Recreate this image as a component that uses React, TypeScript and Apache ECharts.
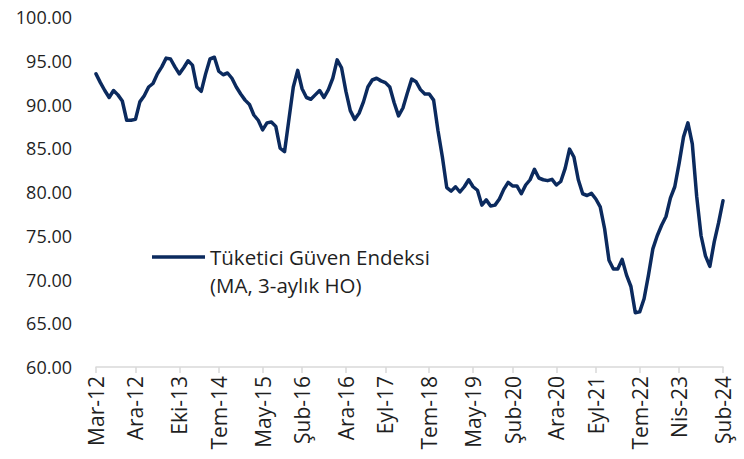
import React, { useEffect, useRef } from "react";
import * as echarts from "echarts";

const MONTH_NAMES = ["Oca", "Şub", "Mar", "Nis", "May", "Haz", "Tem", "Ağu", "Eyl", "Eki", "Kas", "Ara"];
const START_YEAR = 2012;
const START_MONTH = 2; // March (0-based)
const SERIES_NAME = "Tüketici Güven Endeksi";
const SERIES_NOTE = "(MA, 3-aylık HO)";

const TICK_LABELS = [
  "Mar-12", "Ara-12", "Eki-13", "Tem-14", "May-15", "Şub-16", "Ara-16", "Eyl-17",
  "Tem-18", "May-19", "Şub-20", "Ara-20", "Eyl-21", "Tem-22", "Nis-23", "Şub-24",
];

const VALUES = [
  93.5, 92.5, 91.6, 90.8, 91.6, 91.1, 90.4, 88.2, 88.2, 88.3,
  90.3, 91.0, 92.0, 92.4, 93.5, 94.3, 95.3, 95.2, 94.3, 93.5,
  94.2, 95.0, 94.5, 92.0, 91.5, 93.5, 95.2, 95.4, 93.8, 93.4,
  93.6, 93.0, 92.0, 91.2, 90.5, 90.0, 88.8, 88.2, 87.1, 87.9,
  88.0, 87.5, 85.0, 84.6, 88.3, 92.0, 93.9, 91.8, 90.8, 90.6,
  91.1, 91.6, 90.8, 91.7, 93.0, 95.1, 94.2, 91.5, 89.3, 88.3,
  89.0, 90.3, 92.0, 92.8, 93.0, 92.7, 92.5, 92.0, 90.2, 88.7,
  89.6, 91.3, 92.9, 92.6, 91.7, 91.2, 91.2, 90.5, 87.0, 84.0,
  80.5, 80.1, 80.6, 80.0, 80.6, 81.4, 80.6, 80.2, 78.5, 79.1,
  78.4, 78.5, 79.2, 80.3, 81.1, 80.7, 80.7, 79.8, 80.8, 81.4,
  82.6, 81.6, 81.4, 81.3, 81.45, 80.8, 81.2, 82.7, 84.9, 84.0,
  81.4, 79.8, 79.6, 79.85, 79.2, 78.3, 75.8, 72.2, 71.2, 71.2,
  72.3, 70.5, 69.2, 66.2, 66.3, 67.8, 70.5, 73.5, 75.0, 76.2,
  77.2, 79.3, 80.6, 83.3, 86.3, 87.9, 85.5, 79.5, 75.0, 72.7,
  71.5, 74.3, 76.5, 79.0,
];

const CATEGORIES: string[] = VALUES.map((_, i) => {
  const m = START_MONTH + i;
  const year = START_YEAR + Math.floor(m / 12);
  return MONTH_NAMES[m % 12] + "-" + String(year % 100).padStart(2, "0");
});

const FONT = "'Open Sans', 'Noto Sans', sans-serif";
const TEXT_COLOR = "#1f1f1f";
const LINE_COLOR = "#0b2a5e";

export default function App() {
  const ref = useRef<HTMLDivElement>(null);
  useEffect(() => {
    if (!ref.current) return;
    const chart = echarts.init(ref.current, null, { renderer: "svg" });
    const showIdx = (i: number) => TICK_LABELS.includes(CATEGORIES[i]);
    chart.setOption({
      animation: false,
      backgroundColor: "#ffffff",
      grid: { left: 96, right: 21, top: 17, bottom: 92, containLabel: false },
      legend: {
        left: 152,
        top: 215,
        padding: 0,
        icon: "rect",
        itemWidth: 53,
        itemHeight: 3.5,
        itemGap: 0,
        selectedMode: false,
        data: [SERIES_NAME],
        formatter: (name: string) => " \n" + name + "\n" + SERIES_NOTE,
        textStyle: {
          fontFamily: FONT,
          fontSize: 20.5,
          color: TEXT_COLOR,
          lineHeight: 28,
        },
      },
      xAxis: {
        type: "category",
        data: CATEGORIES,
        boundaryGap: false,
        axisLine: { show: true, lineStyle: { color: "#d9d9d9", width: 1.5 } },
        axisTick: {
          show: true,
          length: 6,
          interval: (i: number) => showIdx(i),
          lineStyle: { color: "#d9d9d9", width: 1.5 },
        },
        axisLabel: {
          interval: (i: number) => showIdx(i),
          rotate: 90,
          margin: 9,
          fontFamily: FONT,
          fontSize: 21,
          color: TEXT_COLOR,
        },
        splitLine: { show: false },
      },
      yAxis: {
        type: "value",
        min: 60,
        max: 100,
        interval: 5,
        axisLine: { show: false },
        axisTick: { show: false },
        splitLine: { show: false },
        axisLabel: {
          margin: 24,
          fontFamily: FONT,
          fontSize: 18,
          color: TEXT_COLOR,
          formatter: (v: number) => v.toFixed(2),
        },
      },
      series: [
        {
          name: SERIES_NAME,
          type: "line",
          data: VALUES,
          symbol: "none",
          lineStyle: { color: LINE_COLOR, width: 3.5, join: "round", cap: "round" },
          itemStyle: { color: LINE_COLOR },
        },
      ],
    });
    return () => chart.dispose();
  }, []);
  return <div ref={ref} style={{ width: 744, height: 459, position: "absolute", left: 0, top: 0 }} />;
}
